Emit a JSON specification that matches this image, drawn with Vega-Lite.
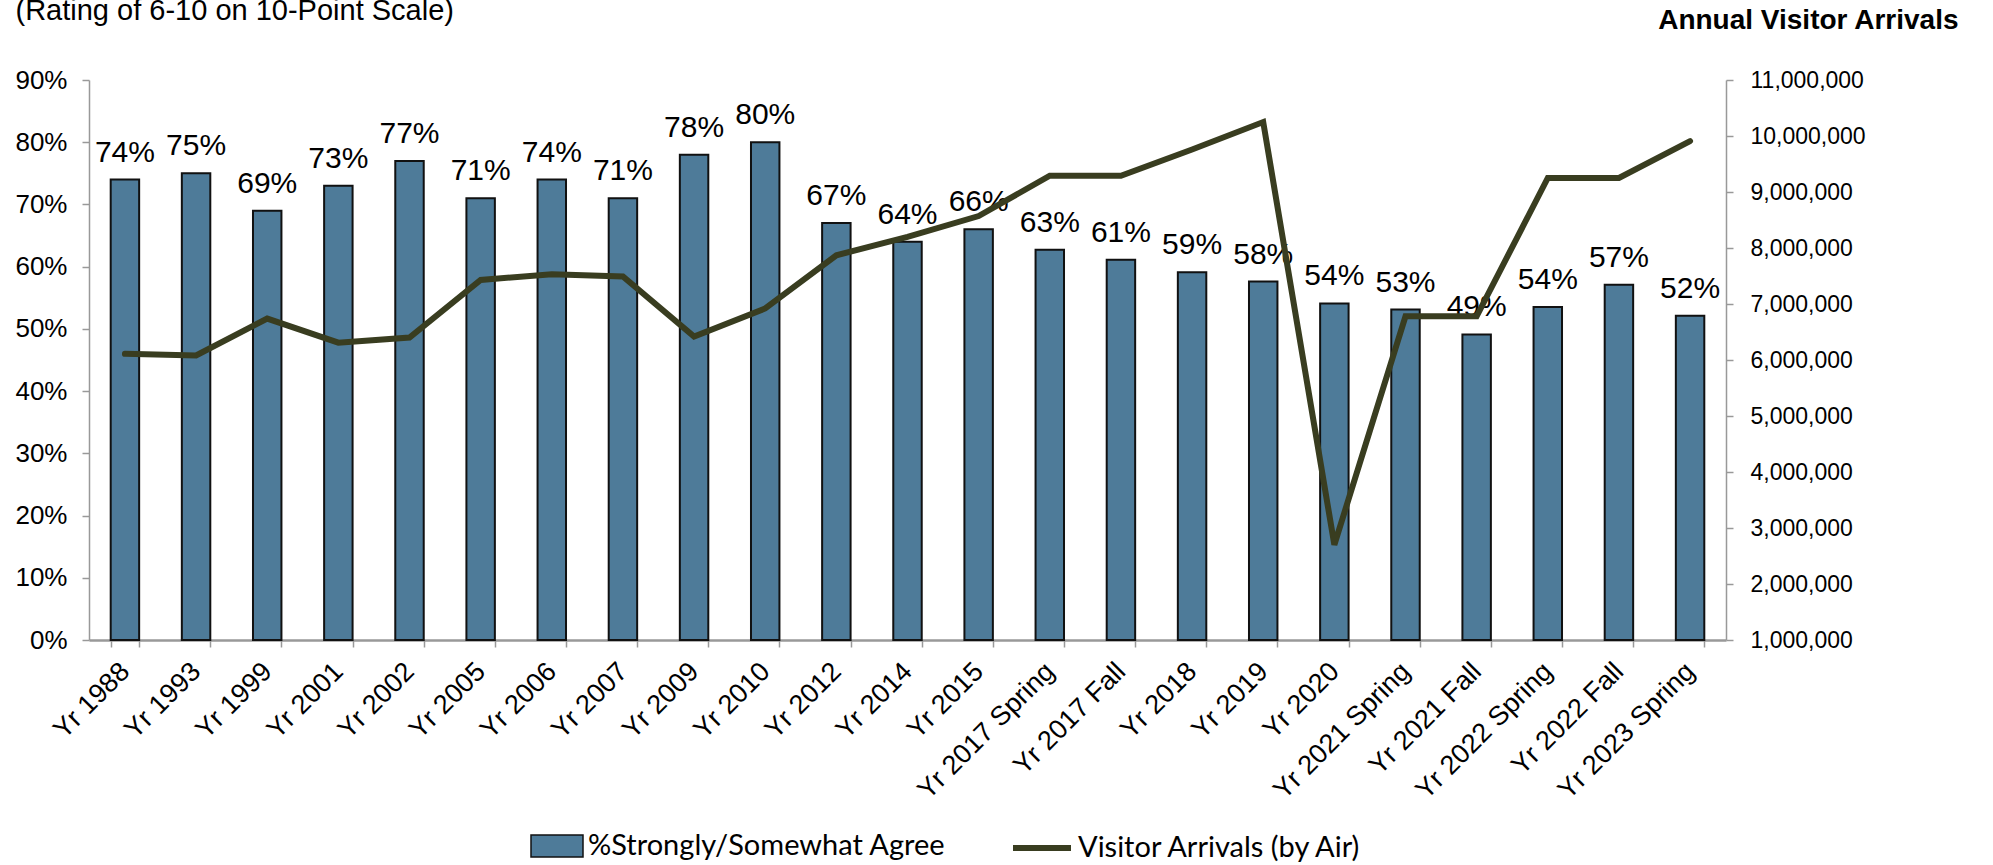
{
  "$schema": "https://vega.github.io/schema/vega-lite/v6.json",
  "width": 1637,
  "height": 560,
  "autosize": {"type": "none"},
  "padding": {"left": 89, "top": 80, "right": 267, "bottom": 225},
  "background": "white",
  "config": {
    "view": {"stroke": null},
    "font": "Liberation Sans"
  },
  "data": {
    "values": [
      {"label": "Yr 1988", "pct": 0.74, "arrivals": 6110000},
      {"label": "Yr 1993", "pct": 0.75, "arrivals": 6080000},
      {"label": "Yr 1999", "pct": 0.69, "arrivals": 6740000},
      {"label": "Yr 2001", "pct": 0.73, "arrivals": 6310000},
      {"label": "Yr 2002", "pct": 0.77, "arrivals": 6400000},
      {"label": "Yr 2005", "pct": 0.71, "arrivals": 7430000},
      {"label": "Yr 2006", "pct": 0.74, "arrivals": 7530000},
      {"label": "Yr 2007", "pct": 0.71, "arrivals": 7490000},
      {"label": "Yr 2009", "pct": 0.78, "arrivals": 6420000},
      {"label": "Yr 2010", "pct": 0.80, "arrivals": 6920000},
      {"label": "Yr 2012", "pct": 0.67, "arrivals": 7870000},
      {"label": "Yr 2014", "pct": 0.64, "arrivals": 8200000},
      {"label": "Yr 2015", "pct": 0.66, "arrivals": 8570000},
      {"label": "Yr 2017 Spring", "pct": 0.627, "arrivals": 9290000},
      {"label": "Yr 2017 Fall", "pct": 0.611, "arrivals": 9290000},
      {"label": "Yr 2018", "pct": 0.591, "arrivals": 9760000},
      {"label": "Yr 2019", "pct": 0.576, "arrivals": 10250000},
      {"label": "Yr 2020", "pct": 0.541, "arrivals": 2700000},
      {"label": "Yr 2021 Spring", "pct": 0.531, "arrivals": 6780000},
      {"label": "Yr 2021 Fall", "pct": 0.491, "arrivals": 6780000},
      {"label": "Yr 2022 Spring", "pct": 0.535, "arrivals": 9250000},
      {"label": "Yr 2022 Fall", "pct": 0.571, "arrivals": 9250000},
      {"label": "Yr 2023 Spring", "pct": 0.521, "arrivals": 9910000}
    ]
  },
  "encoding": {
    "x": {
      "field": "label",
      "type": "nominal",
      "sort": null,
      "scale": {"paddingInner": 0.6, "paddingOuter": 0.305},
      "axis": {
        "title": null,
        "labelAngle": -45,
        "labelAlign": "right",
        "labelBaseline": "middle",
        "labelFontSize": 27,
        "labelColor": "#000",
        "labelPadding": 20,
        "labelLimit": 400,
        "tickBand": "extent",
        "tickSize": 7,
        "tickColor": "#999",
        "tickWidth": 1.5,
        "domainColor": "#999",
        "domainWidth": 2.5
      }
    }
  },
  "layer": [
    {
      "layer": [
        {
          "mark": {"type": "bar", "stroke": "#111", "strokeWidth": 2},
          "encoding": {
            "y": {
              "field": "pct",
              "type": "quantitative",
              "scale": {"domain": [0, 0.9], "nice": false},
              "axis": {
                "format": ".0%",
                "values": [0, 0.1, 0.2, 0.3, 0.4, 0.5, 0.6, 0.7, 0.8, 0.9],
                "grid": false,
                "domainColor": "#999",
                "domainWidth": 1.5,
                "tickColor": "#999",
                "tickWidth": 1.5,
                "tickSize": 7,
                "labelFontSize": 26,
                "labelColor": "#000",
                "labelPadding": 15,
                "title": "(Rating of 6-10 on 10-Point Scale)",
                "titleAngle": 0,
                "titleAlign": "left",
                "titleBaseline": "alphabetic",
                "titleX": -74,
                "titleY": -61,
                "titleFontSize": 29,
                "titleFontWeight": "normal",
                "titleColor": "#000"
              }
            },
            "fill": {
              "datum": "%Strongly/Somewhat Agree",
              "scale": {"range": ["#4E7B99"]},
              "legend": {
                "title": null,
                "orient": "none",
                "legendX": 441,
                "legendY": 739,
                "symbolType": "M-1,-0.42H1V0.42H-1Z",
                "symbolSize": 2704,
                "symbolStrokeColor": "#111",
                "symbolStrokeWidth": 1.5,
                "labelFont": "Lato",
                "labelFontSize": 29,
                "labelColor": "#000",
                "labelOffset": 4,
                "labelLimit": 600,
                "padding": 0
              }
            }
          }
        },
        {
          "mark": {"type": "text", "baseline": "alphabetic", "dy": -18, "fontSize": 30, "color": "#000"},
          "encoding": {
            "y": {"field": "pct", "type": "quantitative"},
            "text": {"field": "pct", "type": "quantitative", "format": ".0%"}
          }
        }
      ]
    },
    {
      "mark": {"type": "line", "strokeWidth": 6, "strokeCap": "round"},
      "encoding": {
        "y": {
          "field": "arrivals",
          "type": "quantitative",
          "scale": {"domain": [1000000, 11000000], "nice": false},
          "axis": {
            "orient": "right",
            "format": ",.0f",
            "values": [1000000, 2000000, 3000000, 4000000, 5000000, 6000000, 7000000, 8000000, 9000000, 10000000, 11000000],
            "grid": false,
            "domainColor": "#999",
            "domainWidth": 1.5,
            "tickColor": "#999",
            "tickWidth": 1.5,
            "tickSize": 7,
            "labelFontSize": 23,
            "labelColor": "#000",
            "labelPadding": 17,
            "title": "Annual Visitor Arrivals",
            "titleAngle": 0,
            "titleAlign": "right",
            "titleBaseline": "alphabetic",
            "titleX": 232,
            "titleY": -52,
            "titleFontSize": 28,
            "titleFontWeight": "bold",
            "titleColor": "#000"
          }
        },
        "stroke": {
          "datum": "Visitor Arrivals (by Air)",
          "scale": {"range": ["#393D20"]},
          "legend": {
            "title": null,
            "orient": "none",
            "legendX": 921,
            "legendY": 736,
            "symbolType": "stroke",
            "symbolSize": 3364,
            "symbolStrokeWidth": 6,
            "labelFont": "Lato",
            "labelFontSize": 29,
            "labelColor": "#000",
            "labelOffset": 4,
            "labelLimit": 600,
            "padding": 0
          }
        }
      }
    }
  ],
  "resolve": {"scale": {"y": "independent"}}
}
